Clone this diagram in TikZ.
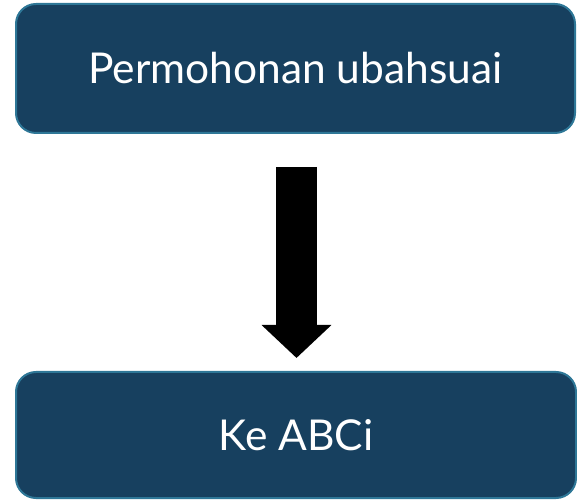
\documentclass[tikz,border=0pt]{standalone}
\usepackage{xcolor}
\usepackage{fontspec}
\setmainfont{Lato}
\usepackage{tikz}
\usetikzlibrary{calc}
\usetikzlibrary{arrows.meta}
\usetikzlibrary{positioning}
\definecolor{boxfill}{HTML}{17405F}
\definecolor{boxline}{HTML}{2E7797}
\tikzset{>=latex}
\tikzstyle{stage} = [draw = boxline, line width = 2pt, fill = boxfill, rounded corners = 20pt, text = white, font = \fontsize{42.5}{48}\selectfont, inner sep = 0]
\tikzstyle{fat} = [draw = black, line width = 41pt, -{Triangle[width = 68pt, length = 33pt]}]

\begin{document}
\begin{tikzpicture}[x=1pt, y=1pt]
\useasboundingbox (0, 0) rectangle (577, 500);
\node [stage, minimum width = 559pt, minimum height = 129pt] (perm) at (295.5, 431.5) {Permohonan ubahsuai};
\node [stage, minimum width = 560pt, minimum height = 126pt] (abci) at (296, 65) {Ke ABCi};
%\node [draw=none] at (296, 250) {};
\draw [fat, shorten <= 33pt, shorten >= 13pt] ([xshift = 1pt]perm.south) to ([xshift = 0.5pt]abci.north);
\end{tikzpicture}
\end{document}
